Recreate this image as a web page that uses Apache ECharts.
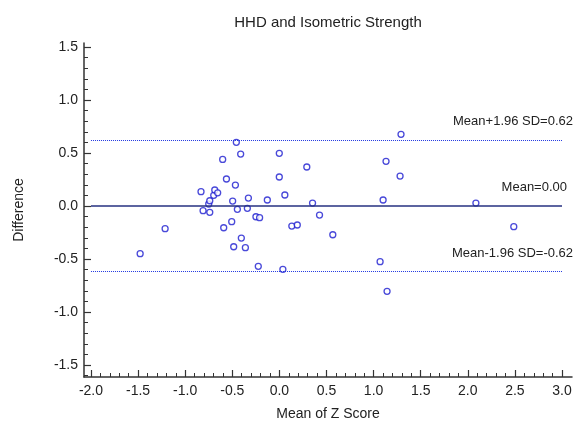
<!DOCTYPE html>
<html>
<head>
<meta charset="utf-8">
<script src="https://cdn.jsdelivr.net/npm/echarts@6/dist/echarts.min.js"></script>
<style>
    html, body { margin: 0; padding: 0; background: #fff; }
    #main { width: 577px; height: 429px; }
</style>
</head>
<body>
<div id="main"></div>
<script>
    // mean of z score (x) and difference (y)
    var meanZ = [-1.478, -1.213, -0.832, -0.81, -0.75, -0.739, -0.739, -0.697, -0.686, -0.655,
        -0.602, -0.591, -0.562, -0.506, -0.496, -0.485, -0.467, -0.457, -0.446, -0.411,
        -0.404, -0.361, -0.34, -0.329, -0.249, -0.21, -0.224, -0.128, -0.001, -0.001,
        0.037, 0.058, 0.132, 0.19, 0.291, 0.352, 0.426, 0.567, 1.069, 1.101,
        1.132, 1.143, 1.281, 1.291, 2.086, 2.488];
    var diff = [-0.45, -0.214, 0.135, -0.044, 0.019, 0.05, -0.059, 0.101, 0.151, 0.125,
        0.44, -0.205, 0.255, -0.148, 0.047, -0.384, 0.198, 0.601, -0.031, 0.49,
        -0.302, -0.393, -0.022, 0.075, -0.101, -0.11, -0.569, 0.057, 0.497, 0.274,
        -0.597, 0.104, -0.189, -0.179, 0.368, 0.028, -0.085, -0.271, -0.525, 0.057,
        0.422, -0.805, 0.283, 0.676, 0.028, -0.195];

    var meanDiff = 0.00;
    var upperLoA = 0.62;
    var lowerLoA = -0.62;

    var xTicks = [-2.0, -1.5, -1.0, -0.5, 0.0, 0.5, 1.0, 1.5, 2.0, 2.5, 3.0];
    var yTicks = [-1.5, -1.0, -0.5, 0.0, 0.5, 1.0, 1.5];

    var points = meanZ.map(function (v, i) { return [v, diff[i]]; });

    // small ticks every 0.1
    function minorTicks(from, to) {
        var out = [];
        for (var k = Math.round(from * 10); k <= Math.round(to * 10); k++) {
            if (k % 5 !== 0) out.push(k / 10);
        }
        return out;
    }

    var font = 'Liberation Sans, Arial, sans-serif';
    var axisColor = '#333';
    var xMin = -2.074, xMax = 3.106, yMin = -1.613, yMax = 1.538;

    // one horizontal reference line with its text
    function refLine(value, text, color, width, type, dx) {
        return {
            type: 'line',
            data: [],
            silent: true,
            markLine: {
                silent: true,
                symbol: 'none',
                lineStyle: { color: color, width: width, type: type },
                label: {
                    formatter: text, position: 'insideEndTop', distance: [-dx, 12],
                    fontFamily: font, fontSize: 13, color: '#222'
                },
                data: [[{ coord: [-2, value] }, { coord: [3, value] }]]
            }
        };
    }

    var myChart = echarts.init(document.getElementById('main'));
    var option = {
        animation: false,
        backgroundColor: '#fff',
        title: {
            text: 'HHD and Isometric Strength',
            left: 323,
            top: 10,
            textAlign: 'center',
            textStyle: { fontFamily: font, fontSize: 15, fontWeight: 'normal', color: '#222' }
        },
        grid: { left: 84, right: 5, top: 43, bottom: 52 },
        xAxis: [
            {
                type: 'value', min: xMin, max: xMax,
                name: 'Mean of Z Score', nameLocation: 'middle', nameGap: 30,
                nameTextStyle: { fontFamily: font, fontSize: 14, color: '#222' },
                splitLine: { show: false },
                axisLine: { onZero: false, lineStyle: { color: axisColor, width: 1.5 } },
                axisTick: { inside: true, length: 7, customValues: xTicks, lineStyle: { color: axisColor, width: 1.2 } },
                axisLabel: {
                    customValues: xTicks, margin: 7,
                    fontFamily: font, fontSize: 14, color: '#222',
                    formatter: function (v) { return v.toFixed(1); }
                }
            },
            {
                type: 'value', min: xMin, max: xMax, position: 'bottom',
                splitLine: { show: false },
                axisLine: { show: false, onZero: false },
                axisLabel: { show: false },
                axisTick: { inside: true, length: 4, customValues: minorTicks(-2, 3), lineStyle: { color: axisColor, width: 1 } }
            }
        ],
        yAxis: [
            {
                type: 'value', min: yMin, max: yMax,
                name: 'Difference', nameLocation: 'middle', nameGap: 58,
                nameTextStyle: { fontFamily: font, fontSize: 14, color: '#222' },
                splitLine: { show: false },
                axisLine: { onZero: false, lineStyle: { color: axisColor, width: 1.5 } },
                axisTick: { inside: true, length: 7, customValues: yTicks, lineStyle: { color: axisColor, width: 1.2 } },
                axisLabel: {
                    customValues: yTicks, margin: 6,
                    fontFamily: font, fontSize: 14, color: '#222',
                    formatter: function (v) { return v.toFixed(1); }
                }
            },
            {
                type: 'value', min: yMin, max: yMax, position: 'left',
                splitLine: { show: false },
                axisLine: { show: false, onZero: false },
                axisLabel: { show: false },
                axisTick: { inside: true, length: 4, customValues: minorTicks(-1.6, 1.5), lineStyle: { color: axisColor, width: 1 } }
            }
        ],
        series: [
            refLine(upperLoA, 'Mean+1.96 SD=' + upperLoA.toFixed(2), '#2238e0', 1, 'dotted', 11),
            refLine(meanDiff, 'Mean=' + meanDiff.toFixed(2), '#263080', 1.5, 'solid', 5),
            refLine(lowerLoA, 'Mean-1.96 SD=' + lowerLoA.toFixed(2), '#2238e0', 1, 'dotted', 11),
            {
                type: 'scatter',
                data: points,
                symbol: 'circle',
                symbolSize: 6,
                itemStyle: { color: '#fff', borderColor: '#1c1ccf', borderWidth: 1.3 }
            }
        ]
    };
    myChart.setOption(option);
</script>
</body>
</html>
